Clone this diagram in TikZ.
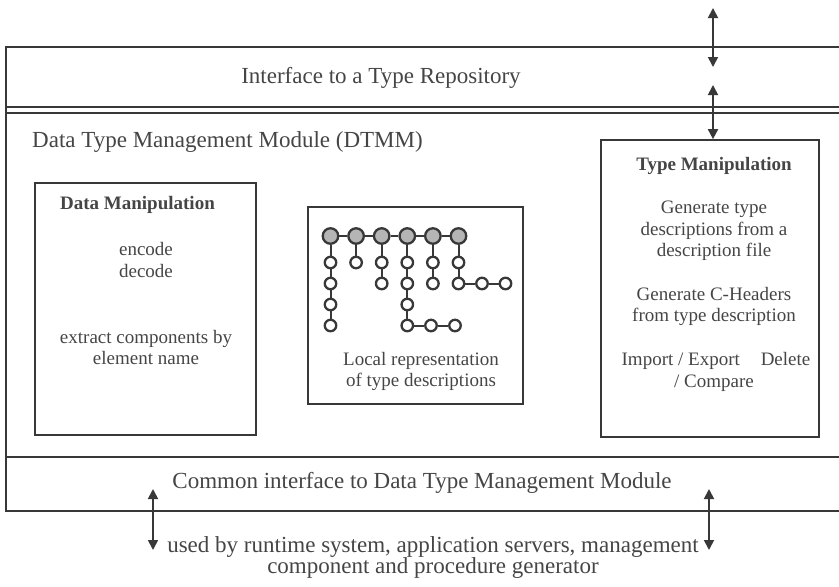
\documentclass[tikz,border=0pt]{standalone}
\usepackage{fontspec}
\setmainfont{Liberation Serif}
\usetikzlibrary{arrows.meta}
\definecolor{ink}{HTML}{383838}
\definecolor{txt}{HTML}{454545}
\definecolor{rootfill}{HTML}{B5B5B5}

\begin{document}
\begin{tikzpicture}[x=1pt,y=-1pt,
  frame/.style={draw=ink, line width=1.8pt},
  box/.style={draw=ink, line width=1.7pt, inner sep=0pt},
  big/.style={text=txt, font=\fontsize{23}{27}\selectfont, inner sep=0pt, anchor=base},
  small/.style={text=txt, font=\fontsize{19}{22}\selectfont, inner sep=0pt, anchor=base},
  title/.style={text=txt, font=\fontsize{19}{22}\selectfont\bfseries, inner sep=0pt, anchor=base},
  link/.style={draw=ink, line width=1.8pt, {Triangle[length=10pt,width=10pt]}-{Triangle[length=10pt,width=10pt]}},
  root/.style={circle, draw=ink, line width=2.3pt, fill=rootfill, minimum size=15.5pt, inner sep=0pt},
  leaf/.style={circle, draw=ink, line width=2.3pt, fill=white, minimum size=11.5pt, inner sep=0pt},
  edge/.style={draw=ink, line width=2pt}]

\useasboundingbox (0,0) rectangle (839,587);

% outer frame, open to the right
\draw[frame] (839,47) -- (6,47) -- (6,511) -- (839,511);
\draw[frame] (6,107) -- (839,107);
\draw[frame] (6,113) -- (839,113);
\draw[frame] (6,457) -- (839,457);

% module boxes
\node[box, minimum width=221pt, minimum height=252pt] (dm) at (145.5,309) {};
\node[box, minimum width=215pt, minimum height=197pt] (mid) at (415.5,305.5) {};
\node[box, minimum width=218pt, minimum height=297pt] (tm) at (710,288.5) {};

% section labels
\node[big] (repo) at (381,83) {Interface to a Type Repository};
\node[big, anchor=base west] (dtmm) at (32,147) {Data Type Management Module (DTMM)};
\node[big] (common) at (422,488) {Common interface to Data Type Management Module};
\node[big] (users1) at (433,552) {used by runtime system, application servers, management};
\node[big] (users2) at (433,573) {component and procedure generator};

% data manipulation
\node[title] (dmT) at (137.5,209) {Data Manipulation};
\node[small] (dm1) at (146,255) {encode};
\node[small] (dm2) at (146,277) {decode};
\node[small] (dm3) at (146,343) {extract components by};
\node[small] (dm4) at (146,364) {element name};

% local representation
\node[small] (lr1) at (421,365) {Local representation};
\node[small] (lr2) at (421,386) {of type descriptions};

% type manipulation
\node[title] (tmT) at (714,170) {Type Manipulation};
\node[small] (tm1) at (714,213) {Generate type};
\node[small] (tm2) at (714,235) {descriptions from a};
\node[small] (tm3) at (714,256) {description file};
\node[small] (tm4) at (714,300) {Generate C-Headers};
\node[small] (tm5) at (714,321) {from type description};
\node[small] (tm6) at (716,365) {Import / Export\hspace{1.1em}Delete};
\node[small] (tm7) at (714,387) {/ Compare};

% type description tree
\foreach \i/\x in {1/330.5, 2/356.1, 3/381.7, 4/407.3, 5/432.9, 6/458.5}
  \node[root] (r\i) at (\x,236) {};
\foreach \k/\y in {1/262.5, 2/283.5, 3/304.5, 4/325.5}
  \node[leaf] (a\k) at (330.5,\y) {};
\node[leaf] (b1) at (356.1,262.5) {};
\foreach \k/\y in {1/262.5, 2/283.5}
  \node[leaf] (c\k) at (381.7,\y) {};
\foreach \k/\y in {1/262.5, 2/283.5, 3/304.5, 4/325.5}
  \node[leaf] (d\k) at (407.3,\y) {};
\node[leaf] (d5) at (431,325.5) {};
\node[leaf] (d6) at (455,325.5) {};
\foreach \k/\y in {1/262.5, 2/283.5}
  \node[leaf] (e\k) at (432.9,\y) {};
\foreach \k/\y in {1/262.5, 2/283.5}
  \node[leaf] (f\k) at (458.5,\y) {};
\node[leaf] (f3) at (482,283.5) {};
\node[leaf] (f4) at (505.5,283.5) {};

\draw[edge] (r1) -- (r2) -- (r3) -- (r4) -- (r5) -- (r6);
\draw[edge] (r1) -- (a1) -- (a2) -- (a3) -- (a4);
\draw[edge] (r2) -- (b1);
\draw[edge] (r3) -- (c1) -- (c2);
\draw[edge] (r4) -- (d1) -- (d2) -- (d3) -- (d4) -- (d5) -- (d6);
\draw[edge] (r5) -- (e1) -- (e2);
\draw[edge] (r6) -- (f1) -- (f2) -- (f3) -- (f4);

% interface arrows
\coordinate (upA) at (713,8);
\coordinate (upB) at (713,67);
\coordinate (upC) at (713,85);
\draw[link] (upA) -- (upB);
\draw[link] (upC) -- (upC |- tm.north);

\coordinate (lwA) at (153,489);
\coordinate (lwB) at (153,550);
\coordinate (rwA) at (709,489);
\coordinate (rwB) at (709,550);
\draw[link] (lwA) -- (lwB);
\draw[link] (rwA) -- (rwB);
\end{tikzpicture}
\end{document}
